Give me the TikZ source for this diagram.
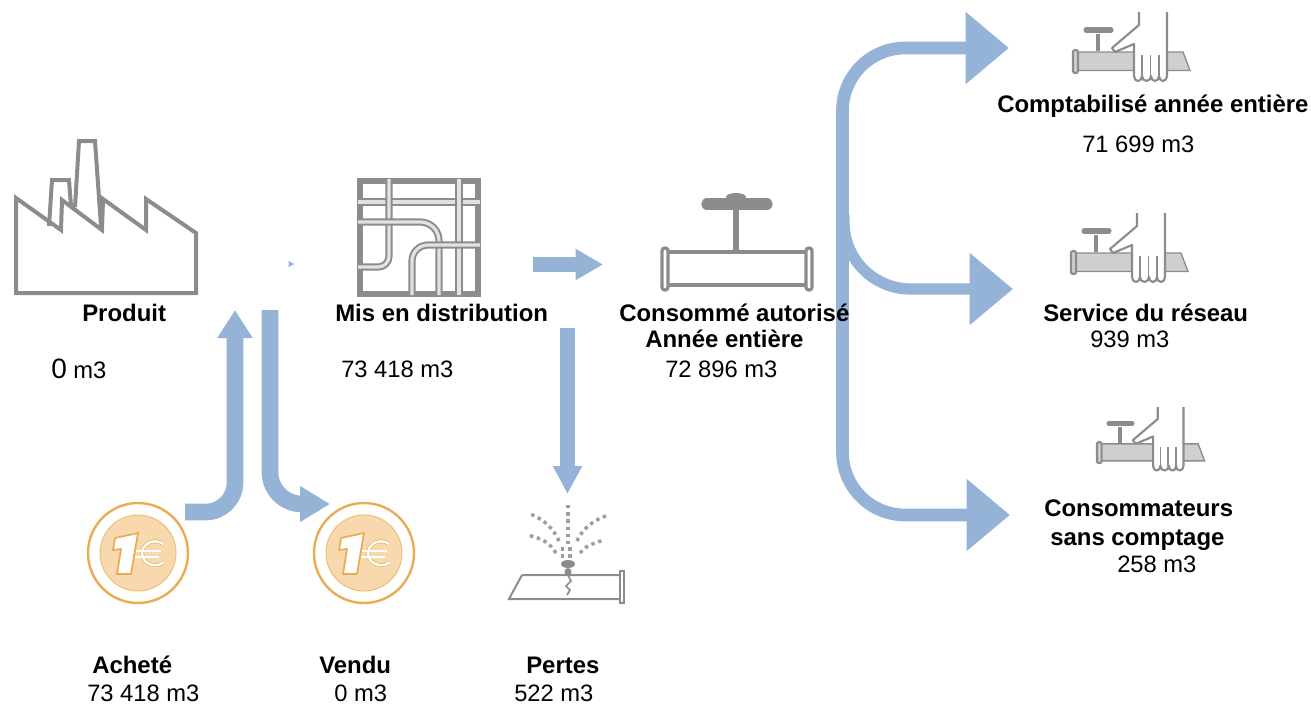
\documentclass[tikz,border=0pt]{standalone}
\usepackage{fontspec}
\setmainfont{Liberation Sans}
\usetikzlibrary{arrows.meta}
\definecolor{flowblue}{HTML}{95B3D7}
\definecolor{icongray}{HTML}{8C8C8C}
\definecolor{tapgray}{HTML}{CFCFCF}
\definecolor{coinline}{HTML}{E9AC55}
\definecolor{coinfill}{HTML}{F8D9AE}
\tikzset{
  lbl/.style={anchor=base west,inner sep=0pt,font=\fontsize{17.8}{20}\selectfont},
  lblb/.style={lbl,font=\fontsize{17.95}{20}\selectfont\bfseries},
  flow/.style={draw=flowblue,line width=9.5pt},
  headbig/.style={-{Triangle[length=32.5pt,width=52pt]}},
  pipe/.style={draw=icongray,line width=1.5pt,double=icongray!25,double distance=2.4pt},
  spray/.style={icongray!85,line width=2.6pt,dash pattern=on 2.6pt off 2.8pt},
  coin/.pic={
    \draw [coinline,line width=1.8pt,fill=white] (0,0) circle (50);
    \draw [coinline!80,line width=.7pt,fill=coinfill] (0,0) circle (38);
    \draw [coinline,line width=1.3pt,fill=white,line join=round] (-23,-15) -- (0,-20) -- (-7,21) -- (-21,21) -- (-17,-4) -- (-25,-3) -- cycle;
    \draw [coinline,line width=.5pt,double=white,double distance=1.8pt] (25.4,9.5) arc (50:310:13 and 12);
    \draw [coinline,line width=.4pt,double=white,double distance=1.2pt] (-2,-2) -- (23,-2) (-3,4) -- (21,4);
  },
  tap/.pic={
    \draw [icongray,line width=1pt,fill=tapgray] (15,52) -- (123,52) -- (130,70.5) -- (15,70.5) -- cycle;
    \draw [icongray,line width=1.6pt,fill=tapgray,rounded corners=1.5pt] (13,50) rectangle (18,73);
    \draw [icongray,line width=3.4pt] (38,34) -- (38,51);
    \draw [icongray,line width=3.8pt,line cap=round] (26,30) -- (51,30);
    \fill [white] (79,12) -- (79,25) -- (52,48) -- (55,52) -- (74,44) -- (74,78) -- (77,82) -- (104,82) -- (107,78) -- (107,12) -- cycle;
    \draw [icongray,line width=1.6pt,line join=round] (79,12) -- (79,25) -- (52,48) -- (55,52) -- (74,44) -- (74,76) arc (180:0:4 and 5) arc (180:0:4.5 and 5) arc (180:0:4 and 5) arc (180:0:4 and 5) -- (107,12);
    \draw [icongray,line width=1.4pt] (82,55) -- (82,76) (90.5,55) -- (90.5,76) (99,55) -- (99,76);
  }
}
\begin{document}
\begin{tikzpicture}[x=.75pt,y=-.75pt]
  \useasboundingbox (0,0) rectangle (1311,704);
  \coordinate (buyStart) at (185,512);
  \coordinate (buyEnd) at (235,310);
  \coordinate (soldStart) at (270,310);
  \coordinate (soldEnd) at (330,504);
  \coordinate (distStart) at (533,264.5);
  \coordinate (distEnd) at (603,264.5);
  \coordinate (lossStart) at (567.5,328);
  \coordinate (lossEnd) at (567.5,494);
  \coordinate (splitTop) at (842.5,260);
  \coordinate (splitMid) at (844,215);
  \coordinate (splitBot) at (842.5,240);
  \coordinate (meterEnd) at (1009,48);
  \coordinate (serviceEnd) at (1013,289);
  \coordinate (unmeterEnd) at (1010,515);
  \coordinate (markStart) at (288.5,264);
  \coordinate (markEnd) at (294,264);

  \draw [flow,line width=12.5pt,-{Triangle[length=21pt,width=25pt]},rounded corners=22pt] (buyStart) -| (buyEnd);
  \draw [flow,line width=12.5pt,-{Triangle[length=22.5pt,width=25.5pt]},rounded corners=24pt] (soldStart) |- (soldEnd);
  \draw [flow,line width=11pt,-{Triangle[length=20.5pt,width=22pt]}] (distStart) -- (distEnd);
  \draw [flow,line width=11pt,-{Triangle[length=21pt,width=20.5pt]}] (lossStart) -- (lossEnd);
  \draw [flow,headbig,rounded corners=47pt] (splitTop) |- (meterEnd);
  \draw [flow,line width=8.5pt,headbig,rounded corners=50pt] (splitMid) |- (serviceEnd);
  \draw [flow,headbig,rounded corners=47pt] (splitBot) |- (unmeterEnd);
  \draw [flowblue,line width=.5pt,-{Triangle[length=4pt,width=4.5pt]}] (markStart) -- (markEnd);

  % usine
  \draw [icongray,line width=3pt,line join=miter] (16,198) -- (16,293) -- (196,293) -- (196,233) -- (146,199) -- (146,230) -- (103,199) -- (102,230) -- (62,200) -- (61,230) -- cycle;
  \draw [icongray,line width=3pt] (49,226) -- (52,180) -- (69,180) -- (71,206);
  \draw [icongray,line width=3pt] (75,207) -- (79,141) -- (95,141) -- (101,226);

  % reseau
  \draw [icongray,line width=4pt] (360,181) rectangle (478,294);
  \draw [pipe] (358,202) -- (480,202);
  \draw [pipe] (459,179) -- (459,295);
  \draw [pipe,rounded corners=8pt] (389,179) -- (389,267) -- (358,267);
  \draw [pipe,rounded corners=14pt] (358,222) -- (439,222) -- (439,295);
  \draw [pipe,rounded corners=12pt] (480,245) -- (412,245) -- (412,295);

  % vanne
  \draw [icongray,line width=2.4pt] (665,252) -- (810,252) (665,285) -- (810,285);
  \draw [icongray,line width=2.4pt,fill=white,rounded corners=2pt] (662,248) rectangle (668,290);
  \draw [icongray,line width=2.4pt,fill=white,rounded corners=2pt] (806,248) rectangle (812,290);
  \draw [icongray,line width=4.4pt] (736,208) -- (736,252);
  \draw [icongray,line width=8.5pt,line cap=round] (707,204) -- (767,204);
  \fill [icongray] (736,197) ellipse (10 and 4);

  \pic at (138,553) {coin};
  \pic at (364,553) {coin};

  % fuite
  \draw [icongray,line width=1.5pt] (522,575) -- (620,575) (620,599) -- (509,599) -- (522,575);
  \draw [icongray,line width=2.2pt,fill=white] (620,571) rectangle (624,603);
  \draw [icongray,line width=1.3pt] (568,575) -- (571,581) -- (566,586) -- (570,590) -- (567,595);
  \draw [spray] (568,505) -- (568,544);
  \draw [spray] (559,541) .. controls (554,530) and (546,520) .. (528,513);
  \draw [spray] (556,553) .. controls (550,544) and (545,539) .. (527,535);
  \draw [spray] (577,541) .. controls (582,530) and (592,520) .. (609,515);
  \draw [spray] (580,553) .. controls (585,547) and (590,544) .. (604,540);
  \draw [spray] (561,549) -- (575,549);
  \draw [spray] (561,556) -- (575,556);
  \fill [icongray] (568,564) ellipse (7 and 4);
  \fill [icongray] (568,572) ellipse (3.5 and 4);

  \pic at (1060,0) {tap};
  \pic at (1058,201) {tap};
  \pic [scale=.92] at (1085,396) {tap};

  \node [lblb] (produit) at (82,321) {Produit};
  \node [lbl] (produitVal) at (51,378) {{\fontsize{21}{24}\selectfont 0} m3};
  \node [lblb] (distrib) at (335,321) {Mis en distribution};
  \node [lbl] (distribVal) at (341,377) {73 418 m3};
  \node [lblb] (conso) at (619,321) {Consommé autorisé};
  \node [lblb] (consoB) at (645,347) {Année entière};
  \node [lbl] (consoVal) at (665,377) {72 896 m3};
  \node [lblb] (compta) at (997,112) {Comptabilisé année entière};
  \node [lbl] (comptaVal) at (1082,152.5) {71 699 m3};
  \node [lblb] (service) at (1043,321) {Service du réseau};
  \node [lbl] (serviceVal) at (1090,347) {939 m3};
  \node [lblb] (sans) at (1044,516) {Consommateurs};
  \node [lblb] (sansB) at (1050,545) {sans comptage};
  \node [lbl] (sansVal) at (1117,572) {258 m3};
  \node [lblb] (achete) at (92,673) {Acheté};
  \node [lbl] (acheteVal) at (87,701) {73 418 m3};
  \node [lblb] (vendu) at (319,673) {Vendu};
  \node [lbl] (venduVal) at (334,701) {0 m3};
  \node [lblb] (pertes) at (526,673) {Pertes};
  \node [lbl] (pertesVal) at (514,701) {522 m3};
\end{tikzpicture}
\end{document}
